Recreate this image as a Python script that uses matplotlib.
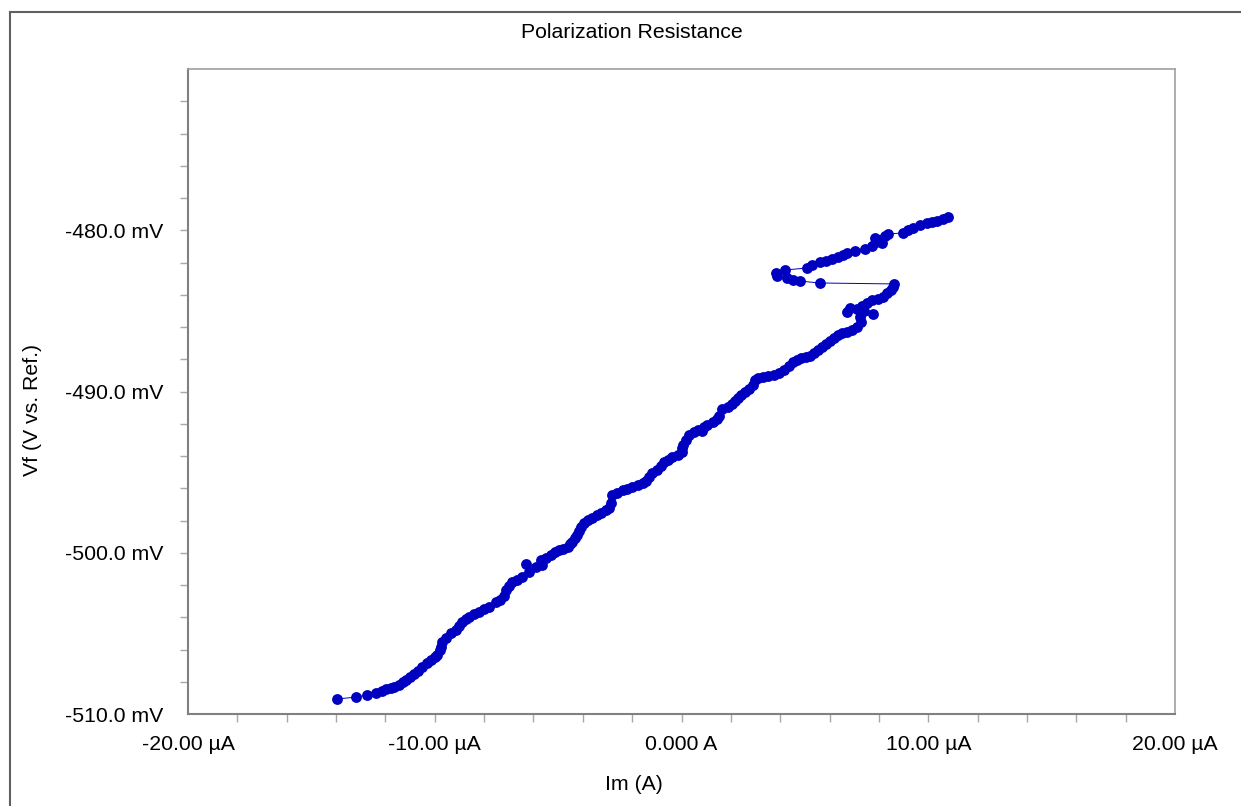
import matplotlib
matplotlib.use("Agg")
import matplotlib.pyplot as plt
from matplotlib.lines import Line2D
from matplotlib.ticker import FixedLocator, FixedFormatter, NullFormatter

plt.rcParams['font.family'] = ['Liberation Sans', 'DejaVu Sans']

# Current Im in microamps, potential Vf in millivolts (in acquisition order)
im_uA = [
    -13.96, -13.18, -12.74, -12.37, -12.13, -11.97, -11.76, -11.64, -11.44, -11.28,
    -11.16, -10.99, -10.83, -10.67, -10.51, -10.30, -10.14, -9.98, -9.90, -9.78,
    -9.74, -9.70, -9.53, -9.33, -9.13, -9.01, -8.88, -8.72, -8.60, -8.40,
    -8.19, -7.99, -7.79, -7.51, -7.34, -7.18, -7.10, -6.98, -6.86, -6.65,
    -6.45, -6.17, -6.29, -5.88, -5.64, -5.68, -5.48, -5.27, -5.11, -4.95,
    -4.79, -4.62, -4.50, -4.42, -4.30, -4.22, -4.14, -4.06, -3.94, -3.77,
    -3.61, -3.41, -3.25, -3.04, -2.92, -2.84, -2.80, -2.60, -2.39, -2.19,
    -1.99, -1.78, -1.58, -1.42, -1.30, -1.18, -1.01, -0.85, -0.69, -0.53,
    -0.37, -0.16, 0.00, 0.04, 0.08, 0.20, 0.32, 0.49, 0.65, 0.85,
    0.93, 1.05, 1.26, 1.42, 1.54, 1.66, 1.87, 2.03, 2.15, 2.31,
    2.43, 2.56, 2.72, 2.88, 2.96, 3.12, 3.29, 3.49, 3.73, 3.94,
    4.14, 4.34, 4.50, 4.67, 4.83, 5.03, 5.19, 5.35, 5.52, 5.68,
    5.84, 6.00, 6.17, 6.33, 6.49, 6.69, 6.90, 7.10, 7.26, 7.22,
    7.75, 7.38, 7.10, 6.82, 6.69, 7.30, 7.51, 7.71, 7.95, 8.15,
    8.32, 8.48, 8.56, 8.60, 5.60, 4.79, 4.50, 4.26, 3.89, 3.81,
    4.18, 5.07, 5.27, 5.60, 5.84, 6.09, 6.33, 6.53, 6.69, 7.02,
    7.42, 7.71, 7.87, 8.11, 8.03, 7.83, 8.24, 8.36, 8.97, 9.17,
    9.37, 9.66, 9.94, 10.14, 10.34, 10.59, 10.79,
]
vf_mV = [
    -509.07, -508.95, -508.82, -508.70, -508.57, -508.45, -508.39, -508.33, -508.20, -508.02,
    -507.89, -507.71, -507.52, -507.33, -507.09, -506.84, -506.65, -506.47, -506.34, -506.03,
    -505.84, -505.53, -505.29, -504.98, -504.79, -504.54, -504.29, -504.11, -503.98, -503.80,
    -503.67, -503.49, -503.36, -503.05, -502.93, -502.68, -502.31, -502.06, -501.81, -501.69,
    -501.50, -501.19, -500.70, -500.88, -500.76, -500.45, -500.33, -500.14, -499.95, -499.83,
    -499.77, -499.64, -499.46, -499.33, -499.09, -498.90, -498.65, -498.40, -498.16, -497.97,
    -497.84, -497.66, -497.53, -497.35, -497.22, -496.91, -496.42, -496.29, -496.11, -496.05,
    -495.92, -495.80, -495.67, -495.55, -495.30, -495.05, -494.87, -494.62, -494.37, -494.25,
    -494.06, -493.94, -493.75, -493.50, -493.32, -493.01, -492.70, -492.51, -492.39, -492.45,
    -492.20, -492.08, -491.89, -491.71, -491.52, -491.09, -490.96, -490.78, -490.59, -490.40,
    -490.22, -490.03, -489.84, -489.60, -489.29, -489.16, -489.10, -489.04, -488.98, -488.85,
    -488.67, -488.42, -488.17, -488.05, -487.92, -487.86, -487.80, -487.61, -487.43, -487.24,
    -487.05, -486.87, -486.68, -486.50, -486.37, -486.31, -486.19, -486.00, -485.69, -485.38,
    -485.19, -485.01, -484.88, -484.82, -485.07, -484.70, -484.51, -484.33, -484.26, -484.14,
    -483.89, -483.71, -483.52, -483.33, -483.27, -483.15, -483.09, -482.96, -482.84, -482.65,
    -482.47, -482.34, -482.16, -481.97, -481.91, -481.78, -481.66, -481.53, -481.41, -481.29,
    -481.16, -480.98, -480.73, -480.79, -480.60, -480.48, -480.36, -480.23, -480.17, -479.98,
    -479.86, -479.67, -479.55, -479.49, -479.43, -479.30, -479.18,
]

x_major = [-20, -10, 0, 10, 20]
x_labels = ["-20.00 µA", "-10.00 µA", "0.000 A", "10.00 µA", "20.00 µA"]
y_major = [-510, -500, -490, -480]
y_labels = ["-510.0 mV", "-500.0 mV", "-490.0 mV", "-480.0 mV"]

title = "Polarization Resistance"
xlabel = "Im (A)"
ylabel = "Vf (V vs. Ref.)"

W, H = 1241, 806
fig = plt.figure(figsize=(W / 100, H / 100), dpi=100)
ax = fig.add_axes([188 / W, 1 - 714 / H, (1175 - 188) / W, (714 - 69) / H])

color = '#0000C0'
ax.plot(im_uA, vf_mV, '-', color=color, lw=0.7, marker='o', markersize=7.8,
        markeredgewidth=0, markerfacecolor=color, clip_on=False)

ax.set_xlim(-20, 20)
ax.set_ylim(-510, -470)

# major ticks carry only labels; minor ticks draw all marks except at the axis ends
ax.xaxis.remove_overlapping_locs = False
ax.yaxis.remove_overlapping_locs = False
ax.xaxis.set_major_locator(FixedLocator(x_major))
ax.xaxis.set_major_formatter(FixedFormatter(x_labels))
ax.xaxis.set_minor_locator(FixedLocator(list(range(-18, 20, 2))))
ax.xaxis.set_minor_formatter(NullFormatter())
ax.yaxis.set_major_locator(FixedLocator(y_major))
ax.yaxis.set_major_formatter(FixedFormatter(y_labels))
ax.yaxis.set_minor_locator(FixedLocator(list(range(-508, -470, 2))))
ax.yaxis.set_minor_formatter(NullFormatter())

tick_col = '#a8a8a8'
ax.tick_params(which='minor', direction='out', length=6, width=1.0, color=tick_col)
ax.tick_params(which='major', direction='out', length=6, width=0, color=tick_col)
ax.tick_params(axis='x', which='major', pad=9, labelsize=15.3)
ax.tick_params(axis='y', which='major', pad=12, labelsize=15.3)

for side in ['left', 'bottom']:
    ax.spines[side].set_color('#808080')
    ax.spines[side].set_linewidth(1.5)
for side in ['top', 'right']:
    ax.spines[side].set_color('#a0a0a0')
    ax.spines[side].set_linewidth(1.2)

fig.text(632 / W, 1 - 32 / H, title, ha='center', va='center', fontsize=15.3)
fig.text(634 / W, 1 - 785 / H, xlabel, ha='center', va='center', fontsize=15.3)
fig.text(33 / W, 1 - 410 / H, ylabel, ha='center', va='center', rotation=90, fontsize=15.3)

# outer frame (left and top edges visible)
fig.add_artist(Line2D([10 / W, 10 / W], [0, 1 - 12 / H], transform=fig.transFigure,
                      color='#606060', lw=1.5))
fig.add_artist(Line2D([10 / W, 1], [1 - 12 / H, 1 - 12 / H], transform=fig.transFigure,
                      color='#606060', lw=1.5))

fig.savefig('out.png', dpi=100)
